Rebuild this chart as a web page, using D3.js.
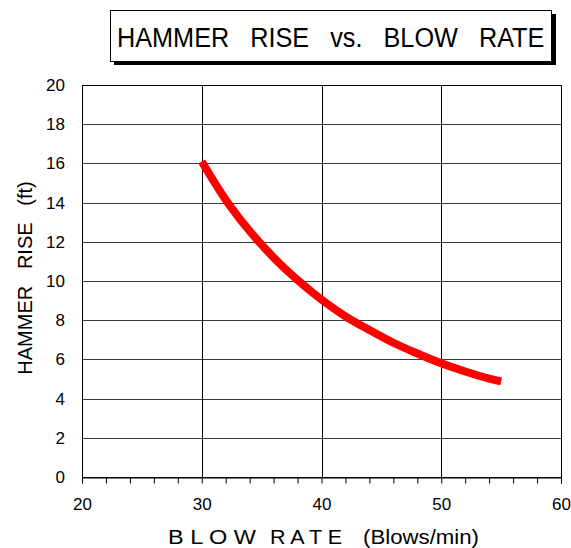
<!DOCTYPE html>
<html><head><meta charset="utf-8">
<script src="https://cdn.jsdelivr.net/npm/d3@7"></script>
<style>body{margin:0;background:#fff}svg{display:block;font-family:"Liberation Sans",Arial,sans-serif}</style>
</head><body>
<script>
const blowRate = [30, 32, 34, 36, 38, 40, 42, 44, 46, 48, 50, 52, 54, 55];
const hammerRise = [16.1, 14.15, 12.55, 11.2, 10.05, 9.05, 8.2, 7.5, 6.85, 6.3, 5.8, 5.38, 5.02, 4.88];
const xTicks = [20, 30, 40, 50, 60];
const yTicks = [0, 2, 4, 6, 8, 10, 12, 14, 16, 18, 20];
const xMinorTicks = d3.range(20, 61, 2);
const titleText = "HAMMER   RISE   vs.   BLOW   RATE";
const xTitleParts = ["B L O W", "R A T E", "(Blows/min)"];
const yTitle = "HAMMER   RISE   (ft)";

const W = 571, H = 548;
const svg = d3.select("body").append("svg").attr("width", W).attr("height", H);
const x = d3.scaleLinear().domain([20, 60]).range([82, 561]);
const y = d3.scaleLinear().domain([0, 20]).range([477, 85]);
const px = v => Math.round(v) + 0.5;

// gridlines
svg.append("g").selectAll("line").data(yTicks.slice(1, -1)).join("line")
  .attr("x1", x(20)).attr("x2", x(60)).attr("y1", d => px(y(d))).attr("y2", d => px(y(d)))
  .attr("stroke", "#3a3a3a").attr("stroke-width", 1);
svg.append("g").selectAll("line").data(xTicks.slice(1, -1)).join("line")
  .attr("y1", y(0)).attr("y2", y(20)).attr("x1", d => px(x(d))).attr("x2", d => px(x(d)))
  .attr("stroke", "#000").attr("stroke-width", 1);

// x axis minor ticks
const xAxis = svg.append("g").attr("transform", `translate(0,${px(y(0))})`)
  .call(d3.axisBottom(x).tickValues(xMinorTicks).tickSize(6).tickFormat(""));
xAxis.select(".domain").attr("stroke", "#000");
const xLab = svg.append("g").attr("transform", `translate(0,${Math.round(y(0))})`)
  .call(d3.axisBottom(x).tickValues(xTicks).tickSize(0).tickPadding(21));
xLab.select(".domain").remove();
xLab.selectAll("text").attr("font-size", 17).attr("fill", "#000").attr("font-family", "Liberation Sans, Arial, sans-serif");

// y axis labels
const yLab = svg.append("g").attr("transform", `translate(${Math.round(x(20))},0)`)
  .call(d3.axisLeft(y).tickValues(yTicks).tickSize(0).tickPadding(17));
yLab.select(".domain").remove();
yLab.selectAll("text").attr("font-size", 17).attr("fill", "#000").attr("font-family", "Liberation Sans, Arial, sans-serif");

// border
svg.append("rect").attr("x", px(x(20))).attr("y", px(y(20)))
  .attr("width", Math.round(x(60)) - Math.round(x(20))).attr("height", Math.round(y(0)) - Math.round(y(20)))
  .attr("fill", "none").attr("stroke", "#000");

// curve
const pts = blowRate.map((d, i) => [d, hammerRise[i]]);
svg.append("path").datum(pts)
  .attr("d", d3.line().x(d => x(d[0])).y(d => y(d[1])).curve(d3.curveMonotoneX))
  .attr("fill", "none").attr("stroke", "#ff0000").attr("stroke-width", 8);

// x axis title
const xtPos = [[168, 88], [270, 72], [363, 116]];
xTitleParts.forEach((t, i) => {
  svg.append("text").attr("x", xtPos[i][0]).attr("y", 544)
    .attr("font-size", 19.5).attr("textLength", xtPos[i][1]).attr("lengthAdjust", "spacingAndGlyphs")
    .text(t);
});
// y axis title
svg.append("text").attr("transform", "translate(32,278) rotate(-90)").attr("text-anchor", "middle")
  .attr("font-size", 20).style("white-space", "pre").text(yTitle);

// title box
svg.append("rect").attr("x", 114).attr("y", 14).attr("width", 442).attr("height", 51).attr("fill", "#000");
svg.append("rect").attr("x", 110.5).attr("y", 10.5).attr("width", 441).attr("height", 51).attr("fill", "#fff").attr("stroke", "#000");
svg.append("text").attr("transform", "translate(117,47) scale(1.01,1.12)")
  .attr("font-size", 25).style("white-space", "pre").text(titleText);
</script>
</body></html>
